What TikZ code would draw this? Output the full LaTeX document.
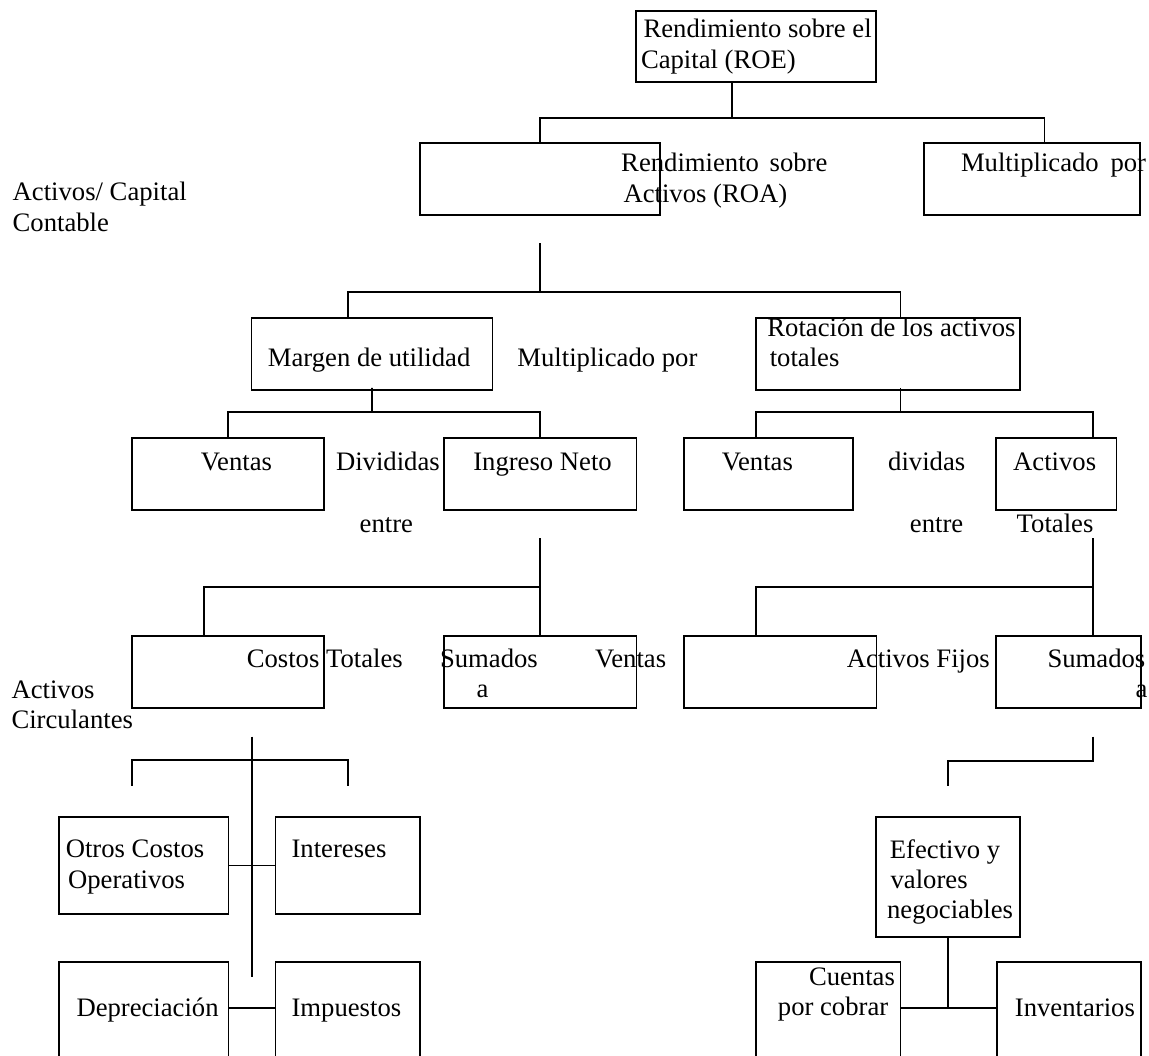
\documentclass[tikz,border=0pt]{standalone}
\usepackage{fontspec}
\setmainfont{Liberation Serif}
\tikzset{
  box/.style={draw, line width=0.75pt, rectangle, inner sep=0pt, outer sep=0pt},
  txt/.style={anchor=base west, inner sep=0pt, outer sep=0pt, font=\fontsize{12pt}{14pt}\selectfont},
  conn/.style={line width=0.75pt}
}
\newcommand\bx[5]{\node[box,minimum width={(#4-#2)*0.45pt},minimum height={(#5-#3)*0.45pt}] (#1) at ({(#2+#4)/2},{(#3+#5)/2}) {};}
\newcommand\tx[4]{\node[txt] (#1) at (#2,#3) {#4};}
\begin{document}
\begin{tikzpicture}[x=0.45pt,y=-0.45pt]
\useasboundingbox (0,0) rectangle (1149,1055);
\clip (0,0) rectangle (1149,1055);
% boxes
\bx{roe}{636}{11}{876}{82.3}
\bx{roa}{420}{143.3}{660.3}{215}
\bx{mula}{924}{143.3}{1140}{215}
\bx{margen}{251.4}{317.7}{492.5}{390}
\bx{rot}{755.8}{317.7}{1020.2}{390}
\bx{ventasA}{132}{437.7}{324.1}{510}
\bx{ingreso}{443.9}{437.7}{636.4}{510}
\bx{ventasB}{684}{437.7}{852.8}{510}
\bx{actT}{995.7}{437.7}{1116.5}{510}
\bx{costos}{132}{636}{324.1}{708.3}
\bx{sumA}{443.9}{636}{636.4}{708.3}
\bx{fijos}{684}{636}{876.6}{708.3}
\bx{sumB}{995.7}{636}{1141}{708.3}
\bx{otros}{59.3}{817.3}{228.4}{914}
\bx{inter}{275.5}{817.3}{420.2}{914}
\bx{efec}{875.9}{817.3}{1020.2}{937.3}
\bx{depr}{59.3}{961.7}{228.4}{1080}
\bx{imp}{275.5}{961.7}{420.2}{1080}
\bx{cuentas}{755.8}{961.7}{900.4}{1080}
\bx{inv}{996.7}{961.7}{1141}{1080}
% texts
\tx{t1}{643.6}{37.5}{Rendimiento sobre el}
\tx{t2}{641}{68.3}{Capital (ROE)}
\tx{t3}{621.2}{171.7}{Rendimiento\hspace{4.8pt}sobre}
\tx{t4}{623.5}{203}{Activos (ROA)}
\tx{t5}{961}{171.7}{Multiplicado\hspace{5.3pt}por}
\tx{t6}{12.7}{200.7}{Activos/ Capital}
\tx{t7}{12.7}{231.7}{Contable}
\tx{t8}{267.9}{366.7}{Margen de utilidad}
\tx{t9}{517.4}{366.7}{Multiplicado por}
\tx{t10}{767.4}{336}{Rotación de los activos}
\tx{t11}{769.8}{366.7}{totales}
\tx{t12}{200.9}{470.7}{Ventas}
\tx{t13}{336}{470.7}{Divididas}
\tx{t14}{473.3}{470.7}{Ingreso Neto}
\tx{t15}{721.8}{470.7}{Ventas}
\tx{t16}{888.2}{470.7}{dividas}
\tx{t17}{1013.2}{470.7}{Activos}
\tx{t18}{359.7}{532}{entre}
\tx{t19}{909.9}{532}{entre}
\tx{t20}{1016.7}{532}{Totales}
\tx{t21}{246.8}{667.5}{Costos Totales}
\tx{t22}{440}{667.5}{Sumados}
\tx{t23}{476.5}{697.5}{a}
\tx{t24}{595}{667.5}{Ventas}
\tx{t25}{846.8}{667.5}{Activos Fijos}
\tx{t26}{1047.5}{667.5}{Sumados}
\tx{t27}{1135.7}{697.5}{a}
\tx{t28}{11.5}{698}{Activos}
\tx{t29}{11.5}{728.5}{Circulantes}
\tx{t30}{65.8}{857.5}{Otros Costos}
\tx{t31}{68.1}{888}{Operativos}
\tx{t32}{291.6}{857.5}{Intereses}
\tx{t33}{889.9}{858}{Efectivo y}
\tx{t34}{890.6}{888.5}{valores}
\tx{t35}{887.1}{918.5}{negociables}
\tx{t36}{76.5}{1016.5}{Depreciación}
\tx{t37}{291.6}{1016.5}{Impuestos}
\tx{t38}{809}{985}{Cuentas}
\tx{t39}{777.9}{1015.5}{por cobrar}
\tx{t40}{1014.9}{1016.5}{Inventarios}
% junction coordinates
\coordinate (j1) at (732.3,118.3);
\coordinate (x1r) at (1044.5,0);
\coordinate (f2) at (540.3,243.3);
\coordinate (j2) at (540.3,291.7);
\coordinate (x2l) at (347.8,0);
\coordinate (x2r) at (900.4,0);
\coordinate (j3) at (372,411.7);
\coordinate (j4) at (900.4,411.7);
\coordinate (x4l) at (755.8,0);
\coordinate (x4r) at (1092.7,0);
\coordinate (f5) at (540.3,538.3);
\coordinate (j5) at (540.3,586.7);
\coordinate (x5l) at (204,0);
\coordinate (f6) at (1092.7,538.3);
\coordinate (j6) at (1092.7,586.7);
\coordinate (f7) at (251.8,736.7);
\coordinate (e7) at (251.8,977.3);
\coordinate (j7) at (251.8,760);
\coordinate (d7l) at (132,785.7);
\coordinate (d7r) at (347.8,785.7);
\coordinate (f9) at (1092.7,736.7);
\coordinate (j9) at (1092.7,760.7);
\coordinate (d9) at (947.7,785.7);
\coordinate (j10) at (948,1008.3);
% connectors
\draw[conn] (roe.south -| j1) -- (j1);
\draw[conn] (roa.north) |- (j1) -| (mula.north -| x1r);
\draw[conn] (f2) -- (j2);
\draw[conn] (margen.north -| x2l) |- (j2) -| (rot.north -| x2r);
\draw[conn] ([yshift=1pt]margen.south) -- (j3);
\draw[conn] (ventasA.north) |- (j3) -| (ingreso.north);
\draw[conn] ([yshift=1pt]rot.south -| j4) -- (j4);
\draw[conn] (ventasB.north -| x4l) |- (j4) -| (actT.north -| x4r);
\draw[conn] (f5) -- (sumA.north -| f5);
\draw[conn] (costos.north -| x5l) |- (j5);
\draw[conn] (f6) -- (sumB.north -| f6);
\draw[conn] (fijos.north -| x4l) |- (j6);
\draw[conn] (f7) -- (e7);
\draw[conn] (d7l) |- (j7) -| (d7r);
\draw[conn] (otros.east) -- (inter.west);
\draw[conn] (depr.east |- 0,1008.3) -- (imp.west |- 0,1008.3);
\draw[conn] (f9) |- (d9 |- j9) -- (d9);
\draw[conn] (efec.south -| j10) -- (j10);
\draw[conn] (cuentas.east |- j10) -- (inv.west |- j10);
\end{tikzpicture}
\end{document}
